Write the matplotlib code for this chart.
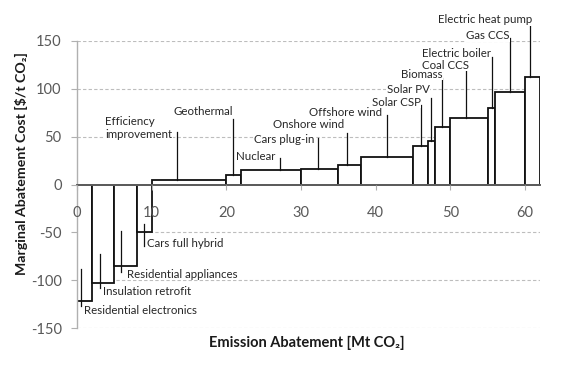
import matplotlib
matplotlib.use("Agg")
import matplotlib.pyplot as plt
from matplotlib.patches import Rectangle

# Marginal abatement cost curve data
measures = [
    "Residential electronics", "Insulation retrofit", "Residential appliances",
    "Cars full hybrid", "Efficiency\nimprovement", "Geothermal", "Nuclear",
    "Cars plug-in", "Onshore wind", "Offshore wind", "Solar CSP", "Solar PV",
    "Biomass", "Coal CCS", "Electric boiler", "Gas CCS", "Electric heat pump",
]
abatement = [2, 3, 3, 2, 10, 2, 8, 5, 3, 7, 2, 1, 2, 5, 1, 4, 2]        # Mt CO2
cost = [-122, -103, -85, -50, 5, 10, 15, 16, 20, 29, 40, 45, 60, 69, 80, 97, 112]  # $/t CO2

x_ticks = [0, 10, 20, 30, 40, 50, 60]
y_ticks = [-150, -100, -50, 0, 50, 100, 150]

# Label layout: (leader x, leader y from, leader y to, text x, text y, alignment)
label_layout = [
    (0.58, -88, -127, 0.9, -131, "left"),
    (3.12, -72, -108, 3.45, -112, "left"),
    (5.89, -49, -91, 6.7, -93.5, "left"),
    (9.0, -41, -64, 9.4, -62, "left"),
    (13.4, 55, None, 12.8, 59, "right"),
    (20.95, 68, None, 20.9, 76.5, "right"),
    (27.2, 28, None, 26.6, 29, "right"),
    (32.3, 48, None, 31.8, 47, "right"),
    (36.2, 54, None, 35.8, 62.8, "right"),
    (41.5, 72.5, None, 40.8, 75, "right"),
    (46.1, 83, None, 46.0, 85.7, "right"),
    (47.4, 90, None, 47.2, 98.6, "right"),
    (48.9, 111, None, 48.9, 115, "right"),
    (52.1, 119.5, None, 52.5, 124.6, "right"),
    (55.6, 133, None, 55.4, 137, "right"),
    (58.0, 152.5, None, 57.9, 155.2, "right"),
    (60.6, 166.5, None, 60.9, 171.6, "right"),
]

FONT = ["Lato", "DejaVu Sans"]
plt.rcParams["font.family"] = FONT

fig = plt.figure(figsize=(5.63, 3.65), dpi=100)
ax = fig.add_axes([0.1368, 0.1005, 0.8224, 0.788])
ax.set_xlim(0, 62)
ax.set_ylim(-150, 150)
ax.set_axisbelow(False)

# Grid lines
for yv in y_ticks:
    if yv != 0:
        ax.axhline(yv, color="#bdbdbd", lw=0.8, ls=(0, (3, 2)), zorder=0)

# Step bars
left = 0
for w, c in zip(abatement, cost):
    ax.add_patch(Rectangle((left, 0), w, c, facecolor="white",
                           edgecolor="#111111", lw=1.3, zorder=1.2))
    left += w

# Leader lines and labels
for name, (lx, y0, y1, tx, ty, ha), c in zip(measures, label_layout, cost):
    y_end = c if y1 is None else y1
    ax.plot([lx, lx], [y0, y_end], color="#111111", lw=0.9, zorder=3,
            clip_on=False)
    ax.text(tx, ty, name, ha=ha, va="center", multialignment="left",
            fontsize=8.3, color="#262626", linespacing=1.2, zorder=4,
            clip_on=False,
            bbox=dict(facecolor="white", edgecolor="none", pad=0.3))

# Axes styling
for s in ["top", "right"]:
    ax.spines[s].set_visible(False)
ax.spines["left"].set_color("#b0b0b0")
ax.spines["left"].set_linewidth(1.0)
ax.spines["bottom"].set_position(("data", 0))
ax.spines["bottom"].set_color("#5e5e5e")
ax.spines["bottom"].set_linewidth(1.4)

ax.set_xticks(x_ticks)
ax.set_yticks(y_ticks)
ax.set_xticklabels([str(v) for v in x_ticks])
ax.set_yticklabels([str(v) for v in y_ticks])
ax.tick_params(axis="x", direction="out", length=3.5, width=0.8,
               color="#b0b0b0", pad=12, labelsize=10.5, labelcolor="#595959")
ax.tick_params(axis="y", direction="out", length=4, width=0.8,
               color="#b0b0b0", pad=7, labelsize=10.5, labelcolor="#595959")

fig.text(0.545, 0.061, "Emission Abatement [Mt CO₂]", ha="center", va="center",
         fontsize=10.5, fontweight="bold", color="#1a1a1a")
fig.text(0.039, 0.553, "Marginal Abatement Cost [$/t CO₂]", ha="center",
         va="center", rotation=90, fontsize=10.2, fontweight="bold",
         color="#1a1a1a")

fig.savefig("out.png", dpi=100)
